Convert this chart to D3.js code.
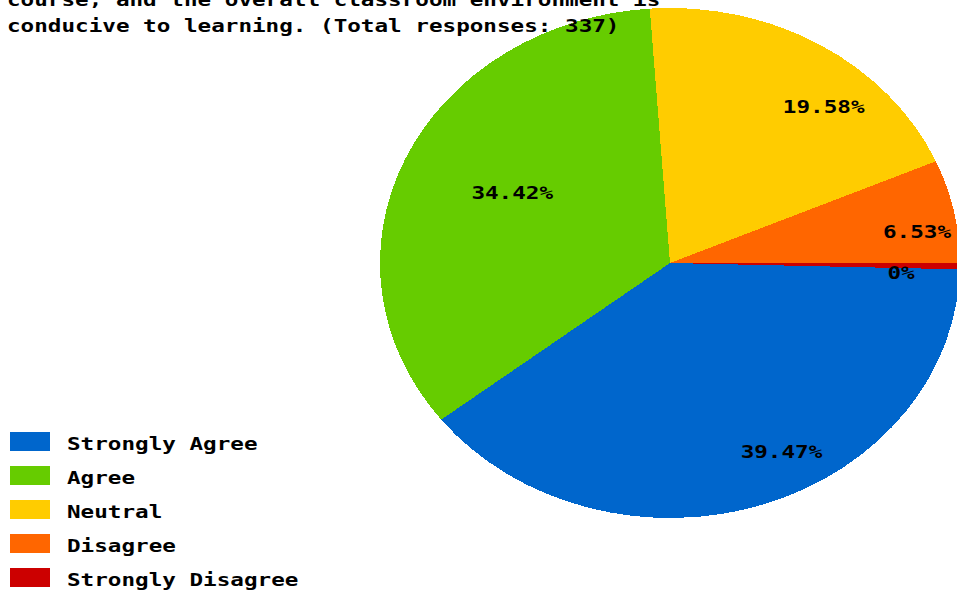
<!DOCTYPE html>
<html>
<head>
<meta charset="utf-8">
<script src="https://cdn.jsdelivr.net/npm/d3@7"></script>
<style>
  html, body { margin: 0; padding: 0; background: #fff; overflow: hidden; }
  text { font-family: "DejaVu Sans Mono", monospace; font-weight: bold; font-size: 17px; fill: #000; }
</style>
</head>
<body>
<div id="chart"></div>
<script>
// chart data
let categories = ["Strongly Agree", "Agree", "Neutral", "Disagree", "Strongly Disagree"];
let percents = [39.47, 34.42, 19.58, 6.53, 0];
let colors = ["#0066cc", "#66cc00", "#ffcc00", "#ff6600", "#cc0000"];
let titleLines = [
  "course, and the overall classroom environment is",
  "conducive to learning. (Total responses: 337)"
];

let w = 957;
let h = 594;

let svg = d3.select("#chart")
  .append("svg")
  .attr("width", w)
  .attr("height", h);

// pie is stretched horizontally in the picture
let cx = 670, cy = 263;
let ry = 255, rx = 290;
let sx = rx / ry;
let textScale = 1.33;

let pie = d3.pie()
  .sort(null)
  .value(d => d)
  .startAngle(Math.PI / 2)
  .endAngle(Math.PI / 2 + 2 * Math.PI);

let arcs = pie(percents).map(d => {
  // empty slices still get a thin sliver, like the original
  if (d.endAngle - d.startAngle < 0.025) d.endAngle = d.startAngle + 0.025;
  return d;
});

let arc = d3.arc().innerRadius(0).outerRadius(ry);

let pieG = svg.append("g")
  .attr("transform", `translate(${cx},${cy}) scale(${sx},1)`);

pieG.selectAll("path")
  .data(arcs)
  .enter().append("path")
  .attr("d", arc)
  .attr("fill", (d, i) => colors[i])
  .attr("shape-rendering", "crispEdges");

// labels: top-left corner at 3/4 of the radius on the mid angle
svg.append("g")
  .selectAll("text")
  .data(arcs)
  .enter().append("text")
  .attr("transform", d => {
    let a = (d.startAngle + d.endAngle) / 2;
    let x = cx + Math.sin(a) * ry * 0.75 * sx;
    let y = cy - Math.cos(a) * ry * 0.75 + 14;
    return `translate(${x},${y}) scale(${textScale},1)`;
  })
  .text(d => d3.format(".4~")(d.data) + "%");

// title (top lines cut off in the picture)
svg.append("g")
  .selectAll("text")
  .data(titleLines)
  .enter().append("text")
  .attr("transform", (d, i) => `translate(7,${6 + i * 26}) scale(${textScale},1)`)
  .text(d => d);

// legend
let legend = svg.append("g")
  .attr("transform", "translate(10,432)");

let rows = legend.selectAll("g")
  .data(categories)
  .enter().append("g")
  .attr("transform", (d, i) => `translate(0,${i * 34})`);

rows.append("rect")
  .attr("width", 40)
  .attr("height", 19)
  .attr("fill", (d, i) => colors[i]);

rows.append("text")
  .attr("transform", `translate(57,18) scale(${textScale},1)`)
  .text(d => d);
</script>
</body>
</html>
